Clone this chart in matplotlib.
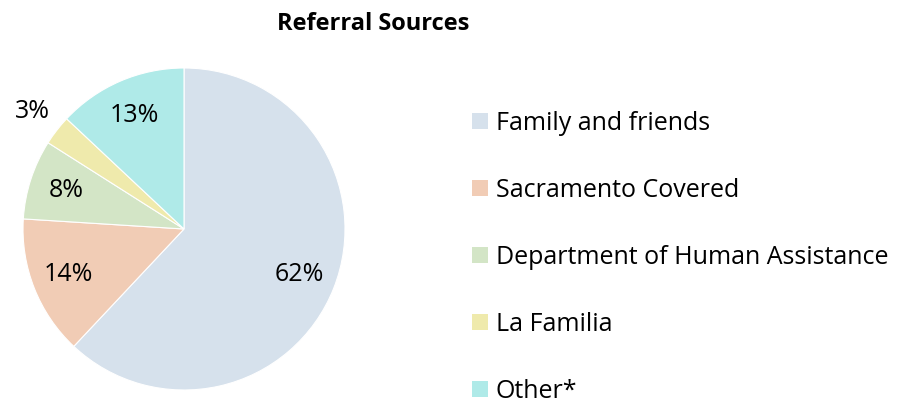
import matplotlib
matplotlib.use("Agg")
import matplotlib.pyplot as plt
from matplotlib.patches import Patch
import numpy as np

categories = ["Family and friends", "Sacramento Covered", "Department of Human Assistance", "La Familia", "Other*"]
values = [62, 14, 8, 3, 13]
colors = ["#D6E1EC", "#F1CCB5", "#D3E5C6", "#EFEAAC", "#AFEAE8"]

plt.rcParams['font.family'] = ['Open Sans', 'DejaVu Sans']

fig = plt.figure(figsize=(8.99, 4.08), dpi=100)
ax = fig.add_axes([23/899, 18/408, 322/899, 322/408])
wedges, texts, autotexts = ax.pie(values, colors=colors, startangle=90, counterclock=False,
                                  autopct=lambda p: f"{p:.0f}%", pctdistance=0.77,
                                  wedgeprops=dict(linewidth=0.8, edgecolor="white"),
                                  textprops=dict(fontsize=18, color="black"))
ax.set_aspect('equal')
ax.set_xlim(-1, 1)
ax.set_ylim(-1, 1)
# move small slice label outside
w = wedges[3]
ang = np.deg2rad((w.theta1 + w.theta2) / 2)
autotexts[3].set_position((1.19 * np.cos(ang), 1.19 * np.sin(ang)))
for t in autotexts:
    t.set_clip_on(False)

fig.text(373/899, 1 - 24/408, "Referral Sources", ha="center", va="center",
         fontsize=17, fontweight="bold")

handles = [Patch(facecolor=c, edgecolor="none") for c in colors]
fig.legend(handles, categories, loc="upper left", bbox_to_anchor=(462/899, 1 - 101/408),
           frameon=False, fontsize=18, labelspacing=1.68, handlelength=0.62,
           handleheight=0.62, handletextpad=0.33, borderaxespad=0)

fig.savefig("out.png", dpi=100)
